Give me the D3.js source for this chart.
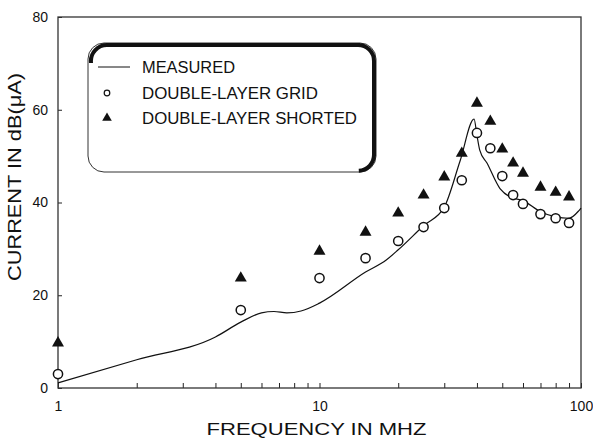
<!DOCTYPE html>
<html>
<head>
<meta charset="utf-8">
<script src="https://cdn.jsdelivr.net/npm/d3@7"></script>
<style>
  body { margin: 0; background: #fff; }
  svg { display: block; font-family: "Liberation Sans", Arial, sans-serif; }
</style>
</head>
<body>
<svg id="chart" width="593" height="441"></svg>
<script>
// DATA
const freqs = [1, 5, 10, 15, 20, 25, 30, 35, 40, 45, 50, 55, 60, 70, 80, 90];
const gridDb = [3.0, 16.8, 23.7, 28.0, 31.7, 34.7, 38.8, 44.8, 55.0, 51.7, 45.7, 41.6, 39.7, 37.5, 36.6, 35.6];
const shortedDb = [9.7, 23.7, 29.5, 33.6, 37.7, 41.6, 45.5, 50.6, 61.4, 57.5, 51.5, 48.5, 46.3, 43.3, 42.2, 41.2];

const measFreq = [1, 2, 4, 5, 6, 6.7, 7.5, 8.5, 10, 15, 18, 20, 25, 30, 34.5, 39, 40, 41, 43.7, 49, 53.5, 60, 70, 80, 90, 98, 100];
const measDb = [1.1, 6.1, 11.0, 14.2, 16.2, 16.5, 16.2, 16.6, 18.3, 25.0, 27.6, 29.8, 35.0, 39.0, 49.0, 58.0, 54.5, 51.3, 48.5, 43.0, 41.2, 40.4, 38.0, 36.9, 36.6, 38.2, 38.8];

const xTicks = [1, 2, 3, 4, 5, 6, 7, 8, 9, 10, 20, 30, 40, 50, 60, 70, 80, 90, 100];
const xLabels = [1, 10, 100];
const yTicks = [0, 20, 40, 60, 80];

const legendLabels = ["MEASURED", "DOUBLE-LAYER GRID", "DOUBLE-LAYER SHORTED"];

// CANVAS SETUP
const margin = { top: 17, right: 12, bottom: 53, left: 58 };
const svg = d3.select("#chart");
const W = +svg.attr("width"), H = +svg.attr("height");

const x = d3.scaleLog().domain([1, 100]).range([margin.left, W - margin.right]);
const y = d3.scaleLinear().domain([0, 80]).range([H - margin.bottom, margin.top]);

// AXES
const xAxis = d3.axisBottom(x)
  .tickValues(xTicks)
  .tickFormat((d) => (xLabels.includes(d) ? d : ""))
  .tickSizeInner(-5)
  .tickSizeOuter(0)
  .tickPadding(13);

const yAxis = d3.axisLeft(y)
  .tickValues(yTicks)
  .tickSizeInner(-4)
  .tickSizeOuter(0)
  .tickPadding(10);

const gx = svg.append("g")
  .attr("transform", `translate(0,${y(0)})`)
  .call(xAxis);
const gy = svg.append("g")
  .attr("transform", `translate(${x(1)},0)`)
  .call(yAxis);

[gx, gy].forEach((g) => {
  g.select(".domain").remove();
  g.selectAll("line").attr("stroke", "#222").attr("stroke-width", 1);
  g.selectAll("text")
    .attr("fill", "#111")
    .style("font-size", "14px");
});

// frame
svg.append("rect")
  .attr("x", x(1))
  .attr("y", y(80))
  .attr("width", x(100) - x(1))
  .attr("height", y(0) - y(80))
  .attr("fill", "none")
  .attr("stroke", "#333")
  .attr("stroke-width", 1.3);

// axis titles
svg.append("text")
  .attr("x", (x(1) + x(100)) / 2 - 3)
  .attr("y", 435)
  .attr("text-anchor", "middle")
  .attr("textLength", 220)
  .attr("lengthAdjust", "spacingAndGlyphs")
  .style("font-size", "17px")
  .attr("fill", "#111")
  .text("FREQUENCY IN MHZ");

svg.append("text")
  .attr("transform", "translate(21,177) rotate(-90)")
  .attr("text-anchor", "middle")
  .attr("textLength", 208)
  .attr("lengthAdjust", "spacingAndGlyphs")
  .style("font-size", "18px")
  .attr("fill", "#111")
  .text("CURRENT IN dB(\u03bcA)");

// MEASURED LINE
const measured = measFreq.map((f, i) => [f, measDb[i]]);
const line = d3.line()
  .x((d) => x(d[0]))
  .y((d) => y(d[1]))
  .curve(d3.curveMonotoneX);

svg.append("path")
  .datum(measured)
  .attr("d", line)
  .attr("fill", "none")
  .attr("stroke", "#111")
  .attr("stroke-width", 1.2);

// MARKERS
const grid = freqs.map((f, i) => ({ f: f, v: gridDb[i] }));
const shorted = freqs.map((f, i) => ({ f: f, v: shortedDb[i] }));

svg.append("g")
  .selectAll("circle")
  .data(grid)
  .join("circle")
  .attr("cx", (d) => x(d.f))
  .attr("cy", (d) => y(d.v))
  .attr("r", 4.6)
  .attr("fill", "#fff")
  .attr("stroke", "#111")
  .attr("stroke-width", 1.5);

const tri = d3.symbol(d3.symbolTriangle, 62);
svg.append("g")
  .selectAll("path")
  .data(shorted)
  .join("path")
  .attr("d", tri)
  .attr("transform", (d) => `translate(${x(d.f)},${y(d.v)})`)
  .attr("fill", "#111");

// LEGEND
const lg = svg.append("g");
const box = { x: 88, y: 43, w: 288, h: 129, r: 16 };

lg.append("rect")
  .attr("x", box.x)
  .attr("y", box.y)
  .attr("width", box.w)
  .attr("height", box.h)
  .attr("rx", box.r)
  .attr("fill", "#fff")
  .attr("stroke", "#333")
  .attr("stroke-width", 1);

// heavy top and right edge
const p = d3.path();
p.moveTo(box.x + 3, box.y + box.r + 4);
p.arcTo(box.x + 2, box.y + 2, box.x + box.r + 4, box.y + 2, box.r);
p.lineTo(box.x + box.w - box.r, box.y + 2);
p.arcTo(box.x + box.w - 2, box.y + 2, box.x + box.w - 2, box.y + box.r, box.r);
p.lineTo(box.x + box.w - 2, box.y + box.h - box.r);
p.arcTo(box.x + box.w - 2, box.y + box.h - 2, box.x + box.w - box.r - 6, box.y + box.h - 1, box.r);
lg.append("path")
  .attr("d", p.toString())
  .attr("fill", "none")
  .attr("stroke", "#111")
  .attr("stroke-width", 4);

const rowY = [67, 93, 118];
const rowLen = [93, 176, 215];

lg.append("line")
  .attr("x1", 98).attr("x2", 130)
  .attr("y1", rowY[0]).attr("y2", rowY[0])
  .attr("stroke", "#111")
  .attr("stroke-width", 1);

lg.append("circle")
  .attr("cx", 107)
  .attr("cy", rowY[1])
  .attr("r", 2.8)
  .attr("fill", "#fff")
  .attr("stroke", "#111")
  .attr("stroke-width", 1.2);

lg.append("path")
  .attr("d", d3.symbol(d3.symbolTriangle, 40))
  .attr("transform", `translate(107,${rowY[2]})`)
  .attr("fill", "#111");

lg.selectAll("text")
  .data(legendLabels)
  .join("text")
  .attr("x", 142)
  .attr("y", (d, i) => rowY[i])
  .attr("dy", "0.36em")
  .attr("textLength", (d, i) => rowLen[i])
  .attr("lengthAdjust", "spacingAndGlyphs")
  .style("font-size", "16px")
  .attr("fill", "#111")
  .text((d) => d);
</script>
</body>
</html>
